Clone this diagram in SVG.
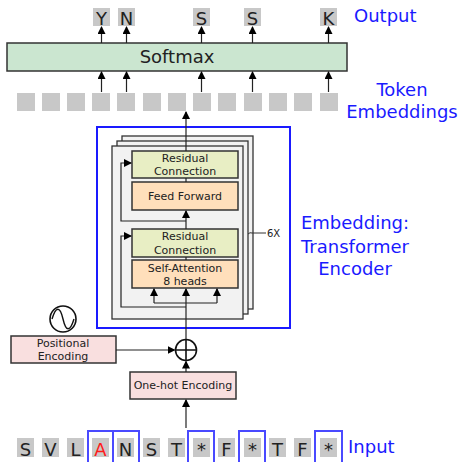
<svg xmlns="http://www.w3.org/2000/svg" width="462" height="462" viewBox="0 0 462 462">
  <defs>
    <marker id="ah" markerWidth="8" markerHeight="8" refX="7" refY="4" orient="auto" markerUnits="userSpaceOnUse">
      <path d="M0,0 L8,4 L0,8 Z" fill="#000"/>
    </marker>
    <style>
      text { font-family: "DejaVu Sans", "Liberation Sans", sans-serif; }
      .tok { fill: #c8c8c8; }
      .blue { fill: #1a1aff; font-size: 18px; }
      .letter { font-size: 18px; fill: #222; text-anchor: middle; }
      .red { fill: #ff1a1a; }
      .sel { fill: none; stroke: #4a4aff; stroke-width: 2; }
      .box { stroke: #333; stroke-width: 1.5; }
      .small { font-size: 11px; fill: #222; text-anchor: middle; }
      .wire { fill: none; stroke: #222; stroke-width: 1.2; }
      .layer { fill: #f2f2f2; stroke: #333; stroke-width: 1.3; }
    </style>
  </defs>

  <rect width="462" height="462" fill="#fff"/>

  <!-- output tokens -->
  <g id="output">
    <rect class="tok" x="93" y="8" width="17" height="18"/>
    <rect class="tok" x="118" y="8" width="17" height="18"/>
    <rect class="tok" x="193" y="8" width="17" height="18"/>
    <rect class="tok" x="244" y="8" width="17" height="18"/>
    <rect class="tok" x="320" y="8" width="17" height="18"/>
    <text class="letter" x="101.5" y="25">Y</text>
    <text class="letter" x="126.5" y="25">N</text>
    <text class="letter" x="201.5" y="25">S</text>
    <text class="letter" x="252.5" y="25">S</text>
    <text class="letter" x="328.5" y="25">K</text>
    <text class="blue" x="354" y="22">Output</text>
  </g>

  <!-- softmax -->
  <g id="softmax">
    <rect x="7" y="43" width="340" height="28" fill="#cbe6d0" stroke="#333" stroke-width="1.5"/>
    <text x="177" y="63" font-size="18" fill="#222" text-anchor="middle">Softmax</text>
  </g>

  <!-- token embeddings row -->
  <g id="embeddings">
    <rect class="tok" x="17" y="93" width="18" height="18"/>
    <rect class="tok" x="42" y="93" width="18" height="18"/>
    <rect class="tok" x="67" y="93" width="18" height="18"/>
    <rect class="tok" x="92" y="93" width="18" height="18"/>
    <rect class="tok" x="117" y="93" width="18" height="18"/>
    <rect class="tok" x="143" y="93" width="18" height="18"/>
    <rect class="tok" x="168" y="93" width="18" height="18"/>
    <rect class="tok" x="193" y="93" width="18" height="18"/>
    <rect class="tok" x="218" y="93" width="18" height="18"/>
    <rect class="tok" x="244" y="93" width="18" height="18"/>
    <rect class="tok" x="269" y="93" width="18" height="18"/>
    <rect class="tok" x="294" y="93" width="18" height="18"/>
    <rect class="tok" x="320" y="93" width="18" height="18"/>
    <text class="blue" x="402" y="96" text-anchor="middle">Token</text>
    <text class="blue" x="402" y="118" text-anchor="middle">Embeddings</text>
  </g>

  <!-- encoder block -->
  <g id="encoder">
    <rect x="97" y="127" width="193" height="201" fill="#fff" stroke="#1a1aff" stroke-width="2"/>
    <rect class="layer" x="122" y="136" width="131" height="173"/>
    <rect class="layer" x="117" y="141" width="131" height="173"/>
    <rect class="layer" x="112" y="146" width="131" height="173"/>
    <text class="blue" x="355" y="229" text-anchor="middle">Embedding:</text>
    <text class="blue" x="355" y="253" text-anchor="middle">Transformer</text>
    <text class="blue" x="355" y="275" text-anchor="middle">Encoder</text>
  </g>

  <g id="residual1">
    <rect class="box" x="132" y="151" width="106" height="27" fill="#e8eec4"/>
    <text class="small" x="185" y="162">Residual</text>
    <text class="small" x="185" y="175">Connection</text>
  </g>
  <g id="feedforward">
    <rect class="box" x="132" y="182" width="106" height="28" fill="#ffdfbb"/>
    <text class="small" x="185" y="200">Feed Forward</text>
  </g>
  <g id="residual2">
    <rect class="box" x="132" y="229" width="106" height="28" fill="#e8eec4"/>
    <text class="small" x="185" y="240">Residual</text>
    <text class="small" x="185" y="254">Connection</text>
  </g>
  <g id="selfattention">
    <rect class="box" x="132" y="260" width="106" height="28" fill="#ffdfbb"/>
    <text class="small" x="185" y="272">Self-Attention</text>
    <text class="small" x="185" y="285">8 heads</text>
  </g>

  <g id="repeat">
    <path d="M248,234 q2,-2 4,-1 L266,233" fill="none" stroke="#333" stroke-width="1"/>
    <text x="267" y="237" font-size="10" fill="#222">6X</text>
  </g>

  <g id="positional">
    <circle cx="63" cy="319" r="13" fill="#fff" stroke="#111" stroke-width="1.6"/>
    <path d="M52,319 C56,306 60,306 63,319 S70,332 74,319" fill="none" stroke="#111" stroke-width="1.4"/>
    <rect class="box" x="11" y="336" width="105" height="27" fill="#f9dfdf"/>
    <text class="small" x="63" y="347">Positional</text>
    <text class="small" x="63" y="360">Encoding</text>
  </g>

  <g id="sum">
    <circle cx="186" cy="350" r="10.5" fill="#fff" stroke="#111" stroke-width="1.6"/>
    <path d="M176,350 H196 M186,340 V360" stroke="#111" stroke-width="1.6"/>
  </g>

  <g id="onehot">
    <rect class="box" x="130" y="372" width="106" height="27" fill="#f9dfdf"/>
    <text class="small" x="183" y="389">One-hot Encoding</text>
  </g>

  <!-- input sequence -->
  <g id="input">
    <rect class="tok" x="17" y="438" width="17" height="19"/>
    <rect class="tok" x="42" y="438" width="17" height="19"/>
    <rect class="tok" x="67" y="438" width="17" height="19"/>
    <rect class="tok" x="92" y="438" width="17" height="19"/>
    <rect class="tok" x="117" y="438" width="17" height="19"/>
    <rect class="tok" x="143" y="438" width="17" height="19"/>
    <rect class="tok" x="168" y="438" width="17" height="19"/>
    <rect class="tok" x="193" y="438" width="17" height="19"/>
    <rect class="tok" x="218" y="438" width="17" height="19"/>
    <rect class="tok" x="244" y="438" width="17" height="19"/>
    <rect class="tok" x="269" y="438" width="17" height="19"/>
    <rect class="tok" x="294" y="438" width="17" height="19"/>
    <rect class="tok" x="320" y="438" width="17" height="19"/>
    <text class="letter" x="25.5" y="456">S</text>
    <text class="letter" x="50.5" y="456">V</text>
    <text class="letter" x="75.5" y="456">L</text>
    <text class="letter red" x="100.5" y="456">A</text>
    <text class="letter" x="125.5" y="456">N</text>
    <text class="letter" x="151.5" y="456">S</text>
    <text class="letter" x="176.5" y="456">T</text>
    <text class="letter" x="201.5" y="456">*</text>
    <text class="letter" x="226.5" y="456">F</text>
    <text class="letter" x="252.5" y="456">*</text>
    <text class="letter" x="277.5" y="456">T</text>
    <text class="letter" x="302.5" y="456">F</text>
    <text class="letter" x="328.5" y="456">*</text>
    <rect class="sel" x="88" y="431" width="25" height="33"/>
    <rect class="sel" x="113" y="431" width="26" height="33"/>
    <rect class="sel" x="188" y="431" width="26" height="33"/>
    <rect class="sel" x="239" y="431" width="26" height="33"/>
    <rect class="sel" x="315" y="431" width="27" height="33"/>
    <text class="blue" x="348" y="453">Input</text>
  </g>

  <!-- connectors -->
  <g id="connectors">
    <path class="wire" d="M101.5,92 V72" marker-end="url(#ah)"/>
    <path class="wire" d="M126.5,92 V72" marker-end="url(#ah)"/>
    <path class="wire" d="M201.5,92 V72" marker-end="url(#ah)"/>
    <path class="wire" d="M252.5,92 V72" marker-end="url(#ah)"/>
    <path class="wire" d="M328.5,92 V72" marker-end="url(#ah)"/>
    <path class="wire" d="M101.5,43 V27" marker-end="url(#ah)"/>
    <path class="wire" d="M126.5,43 V27" marker-end="url(#ah)"/>
    <path class="wire" d="M201.5,43 V27" marker-end="url(#ah)"/>
    <path class="wire" d="M252.5,43 V27" marker-end="url(#ah)"/>
    <path class="wire" d="M328.5,43 V27" marker-end="url(#ah)"/>

    <!-- encoder output up to embeddings -->
    <path class="wire" d="M186,151 V112" marker-end="url(#ah)"/>
    <!-- inside layer -->
    <path class="wire" d="M186,178 V182"/>
    <path class="wire" d="M186,229 V211" marker-end="url(#ah)"/>
    <path class="wire" d="M186,221 H121 V163 H131" marker-end="url(#ah)"/>
    <path class="wire" d="M186,257 V260"/>
    <path class="wire" d="M186,339 V289" marker-end="url(#ah)"/>
    <path class="wire" d="M154,303 H217"/>
    <path class="wire" d="M154,303 V289" marker-end="url(#ah)"/>
    <path class="wire" d="M217,303 V289" marker-end="url(#ah)"/>
    <path class="wire" d="M186,307 H121 V236 H131" marker-end="url(#ah)"/>

    <!-- encodings -->
    <path class="wire" d="M116,350 H174.5" marker-end="url(#ah)"/>
    <path class="wire" d="M186,372 V361.5" marker-end="url(#ah)"/>
    <path class="wire" d="M186,428 V400" marker-end="url(#ah)"/>
  </g>
</svg>
